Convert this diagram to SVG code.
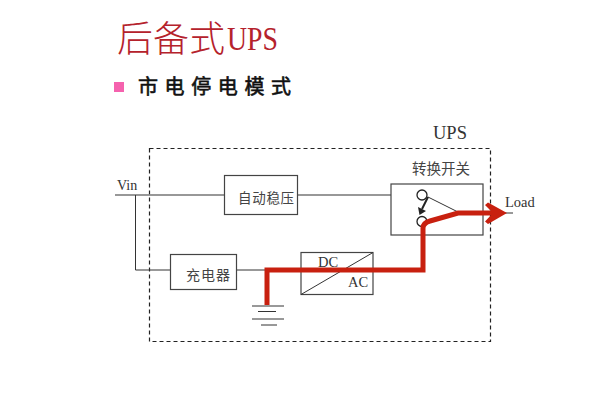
<svg xmlns="http://www.w3.org/2000/svg" width="596" height="414" viewBox="0 0 596 414">
<style>
.box{fill:#fff;stroke:#444;stroke-width:1.2}
.w{fill:none;stroke:#777;stroke-width:1.5}
.k{fill:none;stroke:#333;stroke-width:1}
.cjk{font-family:"Noto Sans CJK SC","Noto Sans",sans-serif;fill:#444}
.lat{font-family:"Liberation Serif",serif;fill:#333}
.red{fill:none;stroke:#c8200f;stroke-width:5}
</style>
<rect width="596" height="414" fill="#fff"/>
<g id="title">
<text x="117" y="52" font-size="36" fill="#b5222c" font-family="'Noto Sans CJK SC',sans-serif" font-weight="300">后备式</text>
<text x="227" y="50" font-size="34" fill="#b5222c" font-family="'Liberation Serif',serif" textLength="51" lengthAdjust="spacingAndGlyphs">UPS</text>
<rect x="114" y="82" width="10" height="10" fill="#f562ae"/>
<text x="138" y="94" font-size="20" letter-spacing="6.6" fill="#111" stroke="#111" stroke-width=".6" font-family="'Noto Sans CJK SC',sans-serif">市电停电模式</text>
</g>
<g id="ups-frame">
<rect x="149.500" y="148.500" width="341" height="193" fill="none" stroke="#222" stroke-width="1.2" stroke-dasharray="4 3"/>
<text class="lat" x="433" y="139" font-size="18.500">UPS</text>
</g>
<g id="connectors">
<path class="w" d="M115 195H224M298 195H418"/>
<path class="k" d="M135.500 195V270H171M236 270H266"/>
<path class="k" d="M491 213H513"/>
<path class="k" d="M252 306H284M258 311.500H276M252 319H284M261 325H277"/>
</g>
<g id="auto-regulator">
<rect class="box" x="224.500" y="175.500" width="73" height="39"/>
<text class="cjk" x="238" y="203" font-size="13.500" letter-spacing="0.700">自动稳压</text>
</g>
<g id="charger">
<rect class="box" x="170.500" y="254.500" width="66" height="35"/>
<text class="cjk" x="186" y="280" font-size="14" letter-spacing="1">充电器</text>
</g>
<g id="inverter">
<rect class="box" x="301" y="252.500" width="72" height="42"/>
<path class="k" d="M301 294.500L373 252.500"/>
<text class="lat" x="318" y="266.500" font-size="14.500">DC</text>
<text class="lat" x="348" y="287" font-size="14.500">AC</text>
</g>
<g id="switch">
<text class="cjk" x="412" y="174" font-size="14.500">转换开关</text>
<rect class="box" x="391" y="184" width="92" height="51"/>
<path class="k" d="M428 197L458 212"/>
<circle cx="422" cy="195" r="5" fill="#fff" stroke="#222" stroke-width="1.3"/>
<circle cx="422" cy="221.500" r="5" fill="#fff" stroke="#222" stroke-width="1.3"/>
<path d="M428 197L422 209" fill="none" stroke="#222" stroke-width="2"/>
<path d="M418 207L426 211L419.500 215Z" fill="#222"/>
</g>
<g id="labels">
<text class="lat" x="117" y="190" font-size="14">Vin</text>
<text class="lat" x="505" y="207" font-size="14.500">Load</text>
</g>
<g id="power-path">
<path class="red" d="M267 305V270H423V228Q423 223 430 221L458 213H498"/>
<path d="M485 205L488 202.500L507 213L488 224L485 221.500L493 213Z" fill="#c8200f"/>
</g>
</svg>
